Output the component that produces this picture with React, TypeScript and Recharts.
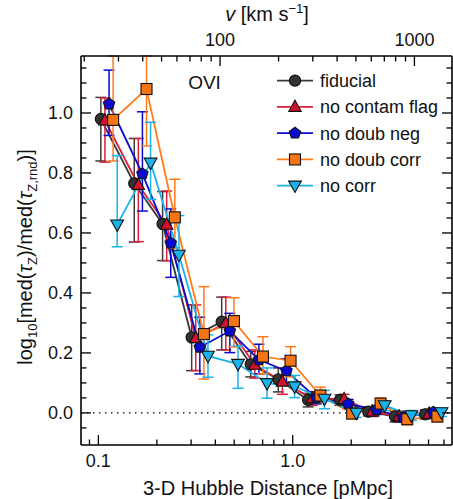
import React from 'react';
import { ComposedChart, Line, XAxis, YAxis, ErrorBar, ReferenceLine, Legend, Customized } from 'recharts';

// ---------------- data ----------------
const binDistance = [0.103, 0.153, 0.214, 0.302, 0.431, 0.608, 0.843, 1.2, 1.75, 2.45, 3.36, 4.8];

const fiducialMed = [0.98, 0.765, 0.63, 0.252, 0.304, 0.162, 0.112, 0.043, 0.043, 0.004, -0.012, -0.005];
const fiducialLo = [0.84, 0.57, 0.508, 0.141, 0.21, 0.12, 0.07, 0.02, 0.025, -0.01, -0.03, -0.02];
const fiducialHi = [1.052, 0.915, 0.738, 0.36, 0.386, 0.205, 0.15, 0.065, 0.06, 0.02, 0.005, 0.01];

const contamMed = [0.975, 0.76, 0.627, 0.249, 0.299, 0.16, 0.104, 0.048, 0.046, 0.004, -0.012, -0.003];
const contamLo = [0.836, 0.571, 0.507, 0.141, 0.21, 0.116, 0.062, 0.025, 0.03, -0.012, -0.03, -0.018];
const contamHi = [1.05, 0.915, 0.74, 0.36, 0.386, 0.21, 0.15, 0.07, 0.062, 0.02, 0.006, 0.012];

const doubNegMed = [1.03, 0.797, 0.566, 0.219, 0.273, 0.177, 0.14, 0.05, 0.03, 0.01, -0.015, 0.002];
const doubNegLo = [0.925, 0.673, 0.452, 0.13, 0.201, 0.13, 0.1, 0.03, 0.015, -0.005, -0.03, -0.012];
const doubNegHi = [1.143, 1.004, 0.68, 0.319, 0.332, 0.229, 0.18, 0.07, 0.045, 0.025, 0.0, 0.015];

// upper bounds of the first two bins run off the top of the frame
const doubCorrMed = [0.977, 1.08, 0.652, 0.263, 0.306, 0.188, 0.174, 0.058, -0.002, 0.031, -0.021, -0.012];
const doubCorrLo = [0.84, 0.89, 0.55, 0.113, 0.22, 0.13, 0.12, 0.035, -0.02, 0.012, -0.04, -0.03];
const doubCorrHi = [1.19, 1.19, 0.779, 0.421, 0.384, 0.254, 0.221, 0.086, 0.015, 0.05, -0.005, 0.005];

const noCorrMed = [0.628, 0.834, 0.527, 0.19, 0.163, 0.099, 0.088, 0.047, 0.0, 0.025, -0.008, 0.002];
const noCorrLo = [0.554, 0.712, 0.388, 0.119, 0.082, 0.049, 0.051, 0.014, -0.015, 0.008, -0.025, -0.012];
const noCorrHi = [0.858, 0.969, 0.658, 0.26, 0.223, 0.15, 0.125, 0.075, 0.015, 0.04, 0.008, 0.016];

const seriesNames = ['fiducial', 'no contam flag', 'no doub neg', 'no doub corr', 'no corr'];

const xTicks = [0.09, 0.1, 0.2, 0.3, 0.4, 0.5, 0.6, 0.7, 0.8, 0.9, 1, 2, 3, 4, 5, 6];
const xLabelValues = [0.1, 1];
const xLabelText = ['0.1', '1.0'];

const vTicks = [20, 30, 40, 50, 60, 70, 80, 90, 100, 200, 300, 400, 500, 600, 700, 800, 900, 1000];
const vLabelValues = [100, 1000];
const vLabelText = ['100', '1000'];

const yTicks = [-0.05, 0, 0.05, 0.1, 0.15, 0.2, 0.25, 0.3, 0.35, 0.4, 0.45, 0.5, 0.55, 0.6, 0.65, 0.7, 0.75, 0.8, 0.85, 0.9, 0.95, 1.0, 1.05, 1.1, 1.15];
const yLabelValues = [0, 0.2, 0.4, 0.6, 0.8, 1.0];
const yLabelText = ['0.0', '0.2', '0.4', '0.6', '0.8', '1.0'];

// ---------------- settings ----------------
const X_MIN = 0.0814;
const X_MAX = 6.6;
const Y_MIN = -0.107;
const Y_MAX = 1.19;
const HUBBLE = 236.5; // km/s per pMpc
const DODGE_DEX = 0.021;
const FONT = '"Liberation Sans", Arial, Helvetica, sans-serif';

type Shape = 'circle' | 'triangle' | 'pentagon' | 'square' | 'triangleDown';

const seriesStyle = [
  { line: '#3a3a3a', fill: '#333333', shape: 'circle' as Shape },
  { line: '#dc1e3c', fill: '#d4102e', shape: 'triangle' as Shape },
  { line: '#0a0acc', fill: '#0a0ad0', shape: 'pentagon' as Shape },
  { line: '#ff7a1a', fill: '#f57516', shape: 'square' as Shape },
  { line: '#1ab2ea', fill: '#1ab2ea', shape: 'triangleDown' as Shape },
];

const seriesValues = [
  [fiducialMed, fiducialLo, fiducialHi],
  [contamMed, contamLo, contamHi],
  [doubNegMed, doubNegLo, doubNegHi],
  [doubCorrMed, doubCorrLo, doubCorrHi],
  [noCorrMed, noCorrLo, noCorrHi],
];

const seriesData = seriesValues.map(([med, lo, hi], k) =>
  binDistance.map((d, i) => ({
    x: d * Math.pow(10, k * DODGE_DEX),
    y: med[i],
    err: [med[i] - lo[i], hi[i] - med[i]],
  }))
);

// fiducial bins expressed as Hubble velocity (ties the velocity axis to the data; drawn invisibly)
const velocityData = binDistance.map((d, i) => ({ v: d * HUBBLE, y: fiducialMed[i] }));

// ---------------- markers ----------------
function Marker({ shape, cx, cy, fill }: { shape: Shape; cx: number; cy: number; fill: string }) {
  const stroke = '#111';
  const sw = 1.1;
  if (shape === 'circle') return <circle cx={cx} cy={cy} r={5.6} fill={fill} stroke={stroke} strokeWidth={sw} />;
  if (shape === 'square')
    return <rect x={cx - 5.5} y={cy - 5.5} width={11} height={11} fill={fill} stroke={stroke} strokeWidth={sw} />;
  if (shape === 'triangle')
    return (
      <polygon
        points={`${cx},${cy - 6.8} ${cx + 6.2},${cy + 4.4} ${cx - 6.2},${cy + 4.4}`}
        fill={fill}
        stroke={stroke}
        strokeWidth={sw}
      />
    );
  if (shape === 'triangleDown')
    return (
      <polygon
        points={`${cx - 6.4},${cy - 4.6} ${cx + 6.4},${cy - 4.6} ${cx},${cy + 6.8}`}
        fill={fill}
        stroke={stroke}
        strokeWidth={sw}
      />
    );
  const pts: string[] = [];
  for (let j = 0; j < 5; j++) {
    const a = -Math.PI / 2 + (j * 2 * Math.PI) / 5;
    pts.push(`${cx + 6 * Math.cos(a)},${cy + 6 * Math.sin(a)}`);
  }
  return <polygon points={pts.join(' ')} fill={fill} stroke={stroke} strokeWidth={sw} />;
}

// ---------------- ticks ----------------
const labelStyle = { fontFamily: FONT, fontSize: 18, fill: '#111' };

function findLabel(v: number, values: number[], texts: string[]) {
  const idx = values.findIndex((m) => Math.abs(m - v) < 1e-6 * Math.max(1, Math.abs(m)));
  return idx >= 0 ? texts[idx] : null;
}

function BottomTick(props: any) {
  const { x, y, payload } = props;
  const lab = findLabel(payload.value, xLabelValues, xLabelText);
  return (
    <g>
      <line x1={x} x2={x} y1={y} y2={y - (lab ? 10 : 5.5)} stroke="#000" strokeWidth={1.3} />
      {lab && (
        <text x={x} y={y + 22} textAnchor="middle" {...labelStyle}>
          {lab}
        </text>
      )}
    </g>
  );
}

function TopTick(props: any) {
  const { x, y, payload } = props;
  const lab = findLabel(payload.value, vLabelValues, vLabelText);
  return (
    <g>
      <line x1={x} x2={x} y1={y} y2={y + (lab ? 10 : 5.5)} stroke="#000" strokeWidth={1.3} />
      {lab && (
        <text x={x} y={y - 10} textAnchor="middle" {...labelStyle}>
          {lab}
        </text>
      )}
    </g>
  );
}

function LeftTick(props: any) {
  const { x, y, payload } = props;
  const lab = findLabel(payload.value, yLabelValues, yLabelText);
  return (
    <g>
      <line x1={x} x2={x + (lab ? 10 : 5.5)} y1={y} y2={y} stroke="#000" strokeWidth={1.3} />
      {lab && (
        <text x={x - 8} y={y + 6.5} textAnchor="end" {...labelStyle}>
          {lab}
        </text>
      )}
    </g>
  );
}

function RightTick(props: any) {
  const { x, y, payload } = props;
  const lab = findLabel(payload.value, yLabelValues, yLabelText);
  return <line x1={x} x2={x - (lab ? 10 : 5.5)} y1={y} y2={y} stroke="#000" strokeWidth={1.3} />;
}

// ---------------- legend ----------------
function LegendContent(props: any) {
  const payload = props.payload || [];
  const present = new Set(payload.map((e: any) => e.value));
  const names = seriesNames.filter((n) => present.size === 0 || present.has(n));
  return (
    <svg width={180} height={135} style={{ overflow: 'visible' }}>
      {names.map((name, i) => {
        const st = seriesStyle[seriesNames.indexOf(name)];
        const cy = 14.7 + i * 26.25;
        return (
          <g key={name}>
            <line x1={7} x2={43} y1={cy} y2={cy} stroke={st.line} strokeWidth={1.8} />
            <Marker shape={st.shape} cx={25} cy={cy} fill={st.fill} />
            <text x={50} y={cy + 6.5} {...labelStyle}>
              {name}
            </text>
          </g>
        );
      })}
    </svg>
  );
}

// ---------------- titles ----------------
function Titles() {
  const t = { fontFamily: FONT, fontSize: 20, fill: '#111' };
  return (
    <g>
      <text x={268} y={495} textAnchor="middle" {...t}>
        3-D Hubble Distance [pMpc]
      </text>
      <text x={267} y={21} textAnchor="middle" {...t}>
        <tspan fontStyle="italic">v</tspan>
        <tspan> [km s</tspan>
        <tspan dy={-8} fontSize={13}>−1</tspan>
        <tspan dy={8}>]</tspan>
      </text>
      <text x={32} y={257} textAnchor="middle" transform="rotate(-90, 32, 257)" {...t}>
        <tspan>log</tspan>
        <tspan dy={5} fontSize={13}>10</tspan>
        <tspan dy={-5}>[med(</tspan>
        <tspan fontStyle="italic">τ</tspan>
        <tspan dy={5} fontSize={13}>Z</tspan>
        <tspan dy={-5}>)/med(</tspan>
        <tspan fontStyle="italic">τ</tspan>
        <tspan dy={5} fontSize={13}>Z,rnd</tspan>
        <tspan dy={-5}>)]</tspan>
      </text>
      <text x={204.5} y={89} textAnchor="middle" fontFamily={FONT} fontSize={19} fill="#111">
        OVI
      </text>
    </g>
  );
}

const axisLineStyle = { stroke: '#000', strokeWidth: 1.6 };

export default function App() {
  return (
    <div style={{ position: 'absolute', left: 0, top: 0, background: '#fff' }}>
      <ComposedChart width={453} height={499} margin={{ top: 55, right: 0, bottom: 53, left: 80 }}>
        <XAxis
          dataKey="x"
          type="number"
          scale="log"
          domain={[X_MIN, X_MAX]}
          allowDataOverflow
          ticks={xTicks}
          interval={0}
          height={1}
          tickSize={0}
          tickMargin={0}
          tickLine={false}
          axisLine={axisLineStyle}
          tick={(p: any) => <BottomTick {...p} />}
        />
        <XAxis
          xAxisId="top"
          orientation="top"
          dataKey="v"
          type="number"
          scale="log"
          domain={[X_MIN * HUBBLE, X_MAX * HUBBLE]}
          allowDataOverflow
          ticks={vTicks}
          interval={0}
          height={1}
          tickSize={0}
          tickMargin={0}
          tickLine={false}
          axisLine={axisLineStyle}
          tick={(p: any) => <TopTick {...p} />}
        />
        <YAxis
          type="number"
          domain={[Y_MIN, Y_MAX]}
          allowDataOverflow
          ticks={yTicks}
          interval={0}
          width={1}
          tickSize={0}
          tickMargin={0}
          tickLine={false}
          axisLine={axisLineStyle}
          tick={(p: any) => <LeftTick {...p} />}
        />
        <YAxis
          yAxisId="r"
          orientation="right"
          type="number"
          domain={[Y_MIN, Y_MAX]}
          allowDataOverflow
          ticks={yTicks}
          interval={0}
          width={1}
          tickSize={0}
          tickMargin={0}
          tickLine={false}
          axisLine={axisLineStyle}
          tick={(p: any) => <RightTick {...p} />}
        />
        <ReferenceLine y={0} stroke="#000" strokeWidth={1.4} strokeDasharray="1.5 4.5" />
        <Line
          xAxisId="top"
          yAxisId="r"
          data={velocityData}
          dataKey="y"
          name="velocity"
          stroke="none"
          strokeOpacity={0}
          dot={false}
          activeDot={false}
          legendType="none"
          isAnimationActive={false}
        />
        {seriesData.map((data, k) => {
          const st = seriesStyle[k];
          return (
            <Line
              key={seriesNames[k]}
              name={seriesNames[k]}
              data={data}
              dataKey="y"
              type="linear"
              stroke={st.line}
              strokeWidth={1.8}
              isAnimationActive={false}
              activeDot={false}
              dot={(p: any) => (
                <Marker key={`${k}-${p.index}`} shape={st.shape} cx={p.cx} cy={p.cy} fill={st.fill} />
              )}
            >
              <ErrorBar dataKey="err" direction="y" width={5.5} stroke={st.line} strokeWidth={1.5} isAnimationActive={false} />
            </Line>
          );
        })}
        <Legend
          layout="vertical"
          align="center"
          verticalAlign="middle"
          wrapperStyle={{ left: 270, top: 66, width: 180, height: 135 }}
          content={(p: any) => <LegendContent {...p} />}
        />
        <Customized component={<Titles />} />
      </ComposedChart>
    </div>
  );
}
